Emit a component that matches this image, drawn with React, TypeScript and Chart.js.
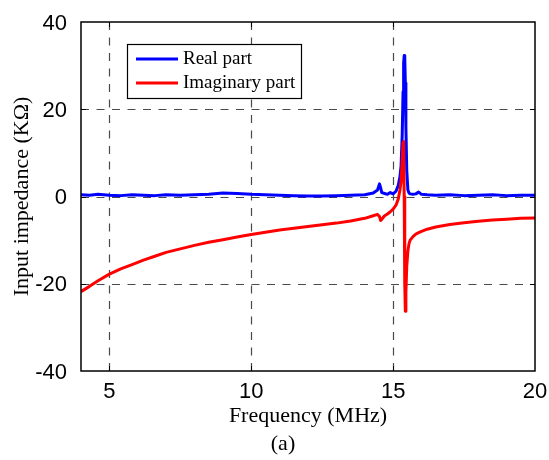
import React, { useEffect, useRef } from "react";
import { Chart, registerables } from "chart.js";

Chart.register(...registerables);

const freqMHz = [
  4.0, 4.3, 4.6, 5.0, 5.4, 5.8, 6.2, 6.6, 7.0, 7.5, 8.0, 8.5, 9.0, 9.5, 10.0,
  10.5, 11.0, 11.5, 12.0, 12.5, 13.0, 13.5, 14.0, 14.3, 14.45, 14.52, 14.56,
  14.6, 14.7, 14.8, 14.9, 15.0, 15.1, 15.18, 15.24, 15.28, 15.32, 15.35, 15.37,
  15.39, 15.41, 15.43, 15.45, 15.48, 15.52, 15.56, 15.6, 15.7, 15.8, 15.9, 16.0,
  16.2, 16.5, 17.0, 17.5, 18.0, 18.5, 19.0, 19.5, 20.0,
];

const realPart = [
  0.4, 0.3, 0.5, 0.3, 0.2, 0.4, 0.3, 0.2, 0.4, 0.3, 0.4, 0.5, 0.8, 0.7, 0.5,
  0.4, 0.3, 0.2, 0.1, 0.1, 0.2, 0.3, 0.4, 0.8, 1.5, 2.9, 2.0,
  0.9, 0.7, 0.5, 0.9, 0.6, 1.2, 2.5, 4.5, 7.0, 14.0, 24.0, 30.5,
  32.3, 31.8, 26.0, 16.0, 6.0, 1.5, 0.8, 0.6, 0.5, 0.6, 1.0, 0.5,
  0.4, 0.3, 0.4, 0.2, 0.3, 0.4, 0.2, 0.3, 0.3,
];

const imagPart = [
  -21.8, -20.6, -19.3, -17.8, -16.6, -15.6, -14.6, -13.7, -12.8, -12.0, -11.2,
  -10.5, -9.9, -9.3, -8.7, -8.2, -7.7, -7.3, -6.9, -6.5, -6.1, -5.6, -5.0, -4.4,
  -4.1, -4.6, -5.5, -5.2, -4.4, -4.0, -3.5, -2.9, -2.0, -0.6, 1.5, 3.5, 8.0,
  12.3, 12.6, 0.0, -20.0, -26.3, -22.0, -16.0, -12.5, -10.8, -10.0, -9.2, -8.6,
  -8.3, -8.0, -7.5, -7.0, -6.4, -6.0, -5.7, -5.4, -5.2, -5.0, -4.9,
];

const xTicks = [5, 10, 15, 20];
const yTicks = [-40, -20, 0, 20, 40];
const seriesNames = ["Real part", "Imaginary part"];
const seriesColors = ["#0000ff", "#ff0000"];

const SERIF = "'Liberation Serif', 'Times New Roman', serif";
const SANS = "'Liberation Sans', Arial, sans-serif";

const framePlugin = {
  id: "framePlugin",
  beforeDatasetsDraw(chart: any) {
    const ctx = chart.ctx;
    const a = chart.chartArea;
    const xs = chart.scales.x;
    const ys = chart.scales.y;
    ctx.save();
    ctx.strokeStyle = "#4a4a4a";
    ctx.lineWidth = 1.2;
    ctx.setLineDash([8, 7.5]);
    [5, 10, 15].forEach((v) => {
      const px = Math.round(xs.getPixelForValue(v)) + 0.5;
      ctx.beginPath();
      ctx.moveTo(px, a.bottom);
      ctx.lineTo(px, a.top);
      ctx.stroke();
    });
    [-20, 0, 20].forEach((v) => {
      const py = Math.round(ys.getPixelForValue(v)) + 0.5;
      ctx.beginPath();
      ctx.moveTo(a.left, py);
      ctx.lineTo(a.right, py);
      ctx.stroke();
    });
    ctx.restore();
  },
  afterDraw(chart: any) {
    const ctx = chart.ctx;
    const xs = chart.scales.x;
    const ys = chart.scales.y;
    const l = Math.round(xs.getPixelForValue(4));
    const r = Math.round(xs.getPixelForValue(20));
    const t = Math.round(ys.getPixelForValue(40));
    const b = Math.round(ys.getPixelForValue(-40));
    ctx.save();
    ctx.setLineDash([]);
    ctx.strokeStyle = "#000000";
    ctx.lineWidth = 1.5;
    ctx.strokeRect(l, t, r - l, b - t);
    ctx.lineWidth = 1;
    const tl = 5;
    ctx.beginPath();
    [5, 10, 15].forEach((v) => {
      const px = Math.round(xs.getPixelForValue(v)) + 0.5;
      ctx.moveTo(px, b);
      ctx.lineTo(px, b - tl);
      ctx.moveTo(px, t);
      ctx.lineTo(px, t + tl);
    });
    [-20, 0, 20].forEach((v) => {
      const py = Math.round(ys.getPixelForValue(v)) + 0.5;
      ctx.moveTo(l, py);
      ctx.lineTo(l + tl, py);
      ctx.moveTo(r, py);
      ctx.lineTo(r - tl, py);
    });
    ctx.stroke();

    // legend
    const lx = 127.5, ly = 44.5, lw = 174, lh = 54;
    ctx.fillStyle = "#fff";
    ctx.fillRect(lx, ly, lw, lh);
    ctx.strokeStyle = "#000";
    ctx.lineWidth = 1.2;
    ctx.strokeRect(lx, ly, lw, lh);
    ctx.font = `19px ${SERIF}`;
    ctx.textBaseline = "middle";
    ctx.textAlign = "left";
    const rows = [59, 83];
    seriesNames.forEach((name, i) => {
      ctx.fillStyle = seriesColors[i];
      ctx.fillRect(136, rows[i] - 1.5, 42, 3);
      ctx.fillStyle = "#000";
      ctx.fillText(name, 183, rows[i]);
    });

    // caption
    ctx.fillStyle = "#000";
    ctx.font = `22px ${SERIF}`;
    ctx.textAlign = "center";
    ctx.textBaseline = "middle";
    ctx.fillText("(a)", 283, 444);
    ctx.restore();
  },
};

export default function App() {
  const ref = useRef<HTMLCanvasElement | null>(null);
  useEffect(() => {
    document.body.style.margin = "0";
    const canvas = ref.current!;
    const chart = new Chart(canvas, {
      type: "line",
      data: {
        datasets: [
          {
            label: seriesNames[0],
            data: freqMHz.map((f, i) => ({ x: f, y: realPart[i] })),
            borderColor: seriesColors[0],
            borderWidth: 3,
            borderJoinStyle: "round",
            pointRadius: 0,
            tension: 0,
            order: 2,
          },
          {
            label: seriesNames[1],
            data: freqMHz.map((f, i) => ({ x: f, y: imagPart[i] })),
            borderColor: seriesColors[1],
            borderWidth: 3,
            borderJoinStyle: "round",
            pointRadius: 0,
            tension: 0,
            order: 1,
          },
        ],
      },
      options: {
        responsive: false,
        animation: false,
        events: [],
        layout: { autoPadding: false, padding: { top: 22, right: 14, left: 0, bottom: 0 } },
        plugins: {
          legend: { display: false },
          tooltip: { enabled: false },
          title: { display: false },
        },
        scales: {
          x: {
            type: "linear",
            min: 4,
            max: 20,
            grid: { display: false },
            border: { display: false },
            afterBuildTicks: (s: any) => {
              s.ticks = xTicks.map((v) => ({ value: v }));
            },
            afterFit: (s: any) => {
              s.height = 89;
            },
            ticks: {
              color: "#000",
              font: { family: SANS, size: 22 },
              padding: 0,
              maxRotation: 0,
              autoSkip: false,
            },
            title: {
              display: true,
              text: "Frequency (MHz)",
              color: "#000",
              font: { family: SERIF, size: 22 },
              padding: { top: 0, bottom: 31 },
            },
          },
          y: {
            type: "linear",
            min: -40,
            max: 40,
            grid: { display: false },
            border: { display: false },
            afterBuildTicks: (s: any) => {
              s.ticks = yTicks.map((v) => ({ value: v }));
            },
            afterFit: (s: any) => {
              s.width = 81;
            },
            ticks: {
              color: "#000",
              font: { family: SANS, size: 22 },
              padding: 6,
              labelOffset: 1.5,
              autoSkip: false,
            },
            title: {
              display: true,
              text: "Input impedance (KΩ)",
              color: "#000",
              font: { family: SERIF, size: 22 },
              padding: { top: 9, bottom: 0 },
            },
          },
        },
      },
      plugins: [framePlugin],
    } as any);
    return () => chart.destroy();
  }, []);
  return (
    <div style={{ width: 549, height: 460, background: "#fff" }}>
      <canvas ref={ref} width={549} height={460} style={{ display: "block" }} />
    </div>
  );
}
